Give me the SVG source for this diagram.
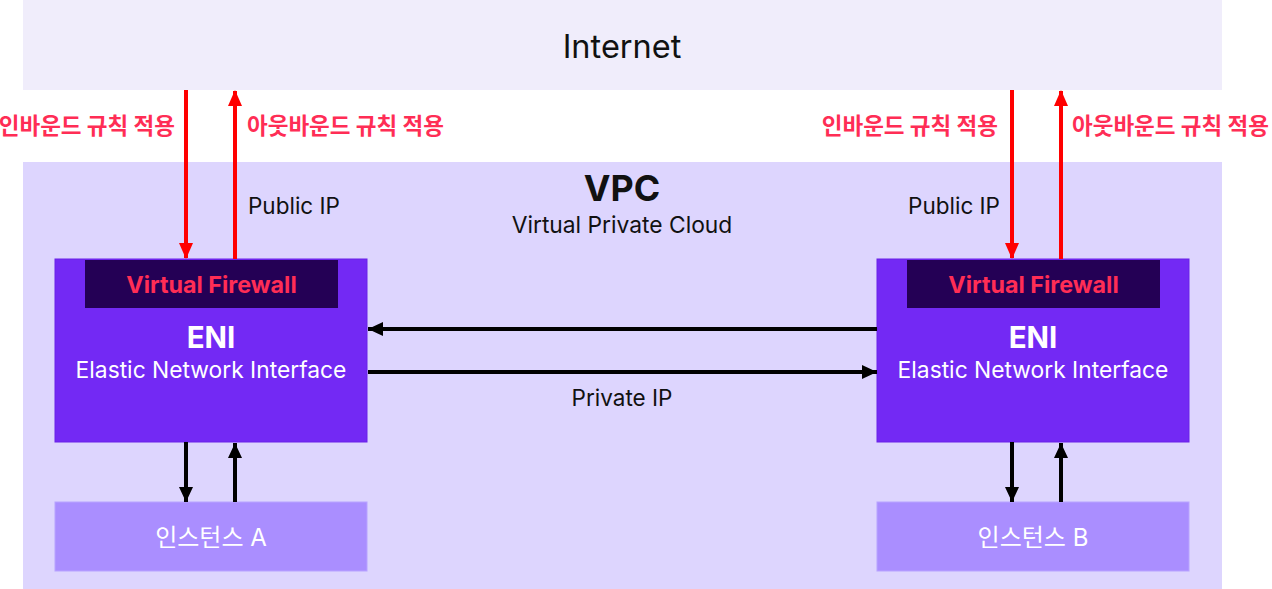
<svg xmlns="http://www.w3.org/2000/svg" width="1272" height="589" viewBox="0 0 1272 589">
<defs>
<marker id="rh" markerUnits="userSpaceOnUse" markerWidth="16" markerHeight="16" refX="15" refY="8" orient="auto"><path d="M0,1 L16,8 L0,15 Z" fill="#ff0000"/></marker>
<marker id="bh" markerUnits="userSpaceOnUse" markerWidth="16" markerHeight="16" refX="15" refY="8" orient="auto"><path d="M0,1 L15,8 L0,15 Z" fill="#000"/></marker>
</defs>
<style>
text{font-family:Inter,"Noto Sans","Noto Sans CJK KR",sans-serif}
.red{stroke:#ff0000;stroke-width:4;fill:none}
.blk{stroke:#000;stroke-width:4;fill:none}
.rl{fill:#ff2d55;font-size:22.5px;font-weight:700}
.lbl{fill:#111;font-size:22.5px}
.eni{fill:#7329f4;stroke:#6a22e8;stroke-width:1}
.fw{fill:#240055}
.fwt{fill:#ff2d55;font-size:23.3px;font-weight:700}
.inst{fill:#aa8eff;stroke:#b8a3ff;stroke-width:1}
.w{fill:#fff}
</style>
<g id="internet"><rect x="23" y="0" width="1199" height="90" fill="#f0edfb"/><text x="622" y="58" font-size="32.5" text-anchor="middle" fill="#111">Internet</text></g>
<g id="vpc"><rect x="23" y="162" width="1199" height="427" fill="#ddd5fe"/><text x="622" y="201" font-size="35.8" font-weight="700" text-anchor="middle" fill="#111">VPC</text><text x="622" y="233" font-size="22.8" text-anchor="middle" fill="#111">Virtual Private Cloud</text></g>
<g id="eni-a"><rect class="eni" x="55" y="259" width="312" height="183"/><rect class="fw" x="85" y="260" width="253" height="48"/><text class="fwt" x="211.5" y="293" text-anchor="middle">Virtual Firewall</text><text class="w" x="211" y="348" font-size="29.5" font-weight="700" text-anchor="middle">ENI</text><text class="w" x="211" y="378" font-size="22.8" text-anchor="middle">Elastic Network Interface</text></g>
<g id="eni-b"><rect class="eni" x="877" y="259" width="312" height="183"/><rect class="fw" x="907" y="260" width="253" height="48"/><text class="fwt" x="1033.5" y="293" text-anchor="middle">Virtual Firewall</text><text class="w" x="1033" y="348" font-size="29.5" font-weight="700" text-anchor="middle">ENI</text><text class="w" x="1033" y="378" font-size="22.8" text-anchor="middle">Elastic Network Interface</text></g>
<g id="inst-a"><rect class="inst" x="55" y="502" width="312" height="69"/><text class="w" x="211" y="546" font-size="24" text-anchor="middle">인스턴스 A</text></g>
<g id="inst-b"><rect class="inst" x="877" y="502" width="312" height="69"/><text class="w" x="1033" y="546" font-size="24" text-anchor="middle">인스턴스 B</text></g>
<g id="connectors">
<line class="red" x1="186" y1="90" x2="186" y2="258" marker-end="url(#rh)"/>
<line class="red" x1="235" y1="259" x2="235" y2="91" marker-end="url(#rh)"/>
<line class="red" x1="1012" y1="90" x2="1012" y2="258" marker-end="url(#rh)"/>
<line class="red" x1="1061" y1="259" x2="1061" y2="91" marker-end="url(#rh)"/>
<line class="blk" x1="877" y1="329" x2="368" y2="329" marker-end="url(#bh)"/>
<line class="blk" x1="368" y1="372" x2="877" y2="372" marker-end="url(#bh)"/>
<line class="blk" x1="186" y1="442" x2="186" y2="502" marker-end="url(#bh)"/>
<line class="blk" x1="235" y1="502" x2="235" y2="443" marker-end="url(#bh)"/>
<line class="blk" x1="1012" y1="442" x2="1012" y2="502" marker-end="url(#bh)"/>
<line class="blk" x1="1061" y1="502" x2="1061" y2="443" marker-end="url(#bh)"/>
<text class="rl" x="175" y="134" text-anchor="end">인바운드 규칙 적용</text>
<text class="rl" x="247" y="134">아웃바운드 규칙 적용</text>
<text class="rl" x="998" y="134" text-anchor="end">인바운드 규칙 적용</text>
<text class="rl" x="1072" y="134">아웃바운드 규칙 적용</text>
<text class="lbl" x="248" y="214">Public IP</text>
<text class="lbl" x="1000" y="214" text-anchor="end">Public IP</text>
<text class="lbl" x="622" y="406" text-anchor="middle">Private IP</text>
</g>
</svg>
